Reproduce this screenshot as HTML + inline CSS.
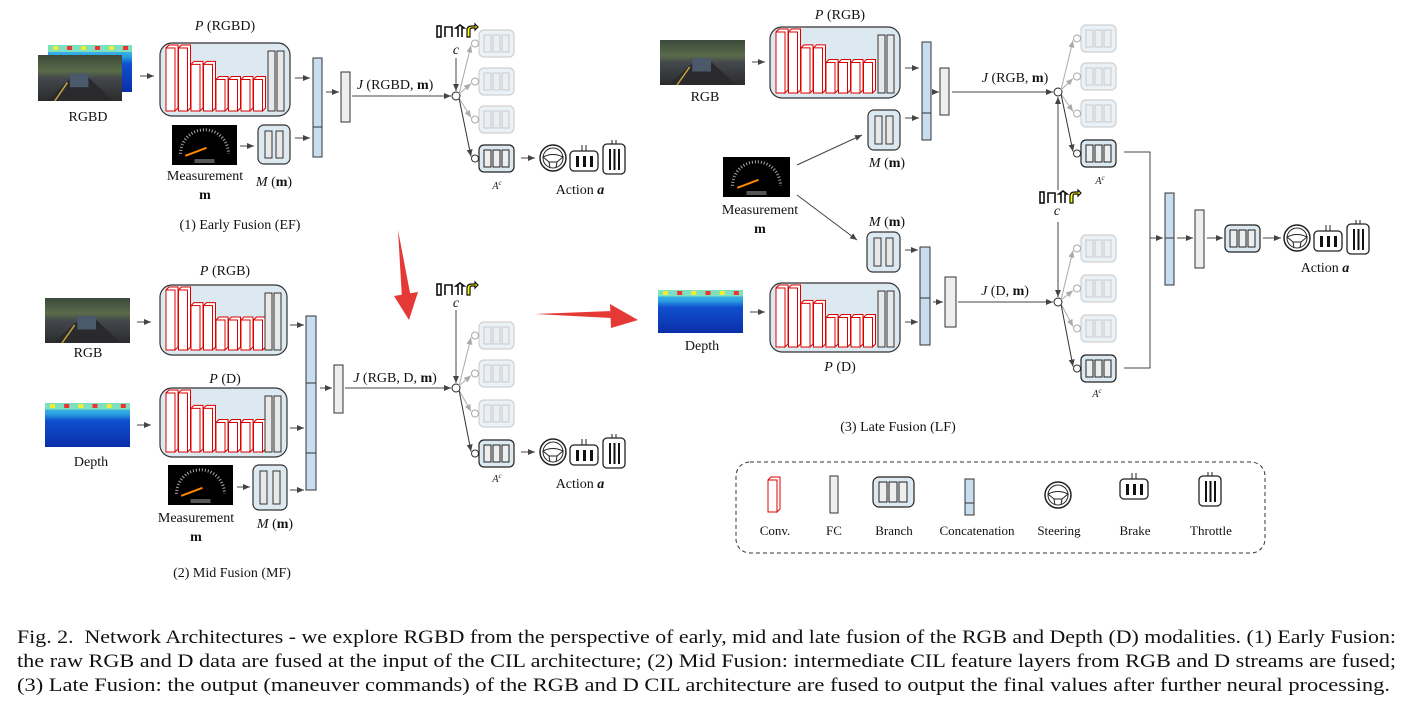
<!DOCTYPE html>
<html><head><meta charset="utf-8">
<style>
html,body{margin:0;padding:0;background:#fff;width:1417px;height:724px;overflow:hidden}
svg{position:absolute;left:0;top:0}
text{font-family:"Liberation Serif",serif;fill:#111}
</style></head><body>
<svg id="s" width="1417" height="724" viewBox="0 0 1417 724">
<defs>
<marker id="ar" markerWidth="8" markerHeight="8" refX="7" refY="3" orient="auto" markerUnits="userSpaceOnUse"><path d="M0,0 L7,3 L0,6z" fill="#444"/></marker>
<marker id="arg" markerWidth="8" markerHeight="8" refX="7" refY="3" orient="auto" markerUnits="userSpaceOnUse"><path d="M0,0 L7,3 L0,6z" fill="#aaa"/></marker>
<linearGradient id="road" x1="0" y1="0" x2="0" y2="1"><stop offset="0" stop-color="#3b4a3a"/><stop offset="0.35" stop-color="#5a6b4a"/><stop offset="0.5" stop-color="#44484c"/><stop offset="1" stop-color="#2b2c2e"/></linearGradient>
<linearGradient id="dep" x1="0" y1="0" x2="0" y2="1"><stop offset="0" stop-color="#4cc8e8"/><stop offset="0.25" stop-color="#2aa0e0"/><stop offset="0.4" stop-color="#1050d0"/><stop offset="1" stop-color="#0a2fa8"/></linearGradient>
</defs>
<g id="g"></g>
<g font-size="14">
<text x="225" y="30" text-anchor="middle"><tspan font-style="italic">P</tspan> (RGBD)</text>
<text x="88" y="121" text-anchor="middle">RGBD</text>
<text x="205" y="180" text-anchor="middle">Measurement</text>
<text x="205" y="199" text-anchor="middle" font-weight="bold">m</text>
<text x="274" y="186" text-anchor="middle"><tspan font-style="italic">M</tspan> (<tspan font-weight="bold">m</tspan>)</text>
<text x="395" y="89" text-anchor="middle"><tspan font-style="italic">J</tspan> (RGBD, <tspan font-weight="bold">m</tspan>)</text>
<text x="456" y="54" text-anchor="middle" font-style="italic">c</text>
<text x="580" y="194" text-anchor="middle">Action <tspan font-weight="bold" font-style="italic">a</tspan></text>
<text x="240" y="229" text-anchor="middle">(1) Early Fusion (EF)</text>

<text x="225" y="275" text-anchor="middle"><tspan font-style="italic">P</tspan> (RGB)</text>
<text x="88" y="357" text-anchor="middle">RGB</text>
<text x="225" y="383" text-anchor="middle"><tspan font-style="italic">P</tspan> (D)</text>
<text x="91" y="466" text-anchor="middle">Depth</text>
<text x="196" y="522" text-anchor="middle">Measurement</text>
<text x="196" y="541" text-anchor="middle" font-weight="bold">m</text>
<text x="275" y="528" text-anchor="middle"><tspan font-style="italic">M</tspan> (<tspan font-weight="bold">m</tspan>)</text>
<text x="395" y="382" text-anchor="middle"><tspan font-style="italic">J</tspan> (RGB, D, <tspan font-weight="bold">m</tspan>)</text>
<text x="456" y="307" text-anchor="middle" font-style="italic">c</text>
<text x="580" y="488" text-anchor="middle">Action <tspan font-weight="bold" font-style="italic">a</tspan></text>
<text x="232" y="577" text-anchor="middle">(2) Mid Fusion (MF)</text>

<text x="840" y="19" text-anchor="middle"><tspan font-style="italic">P</tspan> (RGB)</text>
<text x="705" y="101" text-anchor="middle">RGB</text>
<text x="760" y="214" text-anchor="middle">Measurement</text>
<text x="760" y="233" text-anchor="middle" font-weight="bold">m</text>
<text x="887" y="167" text-anchor="middle"><tspan font-style="italic">M</tspan> (<tspan font-weight="bold">m</tspan>)</text>
<text x="887" y="226" text-anchor="middle"><tspan font-style="italic">M</tspan> (<tspan font-weight="bold">m</tspan>)</text>
<text x="1015" y="82" text-anchor="middle"><tspan font-style="italic">J</tspan> (RGB, <tspan font-weight="bold">m</tspan>)</text>
<text x="1005" y="295" text-anchor="middle"><tspan font-style="italic">J</tspan> (D, <tspan font-weight="bold">m</tspan>)</text>
<text x="702" y="350" text-anchor="middle">Depth</text>
<text x="840" y="371" text-anchor="middle"><tspan font-style="italic">P</tspan> (D)</text>
<text x="1057" y="215" text-anchor="middle" font-style="italic">c</text>
<text x="1325" y="272" text-anchor="middle">Action <tspan font-weight="bold" font-style="italic">a</tspan></text>
<text x="898" y="431" text-anchor="middle">(3) Late Fusion (LF)</text>
</g>
<g font-size="10" font-style="italic">
<text x="497" y="189" text-anchor="middle">A<tspan font-size="7" dy="-4">c</tspan></text>
<text x="497" y="482" text-anchor="middle">A<tspan font-size="7" dy="-4">c</tspan></text>
<text x="1100" y="184" text-anchor="middle">A<tspan font-size="7" dy="-4">c</tspan></text>
<text x="1097" y="397" text-anchor="middle">A<tspan font-size="7" dy="-4">c</tspan></text>
</g>
<g font-size="13" text-anchor="middle">
<text x="775" y="535">Conv.</text>
<text x="834" y="535">FC</text>
<text x="894" y="535">Branch</text>
<text x="977" y="535">Concatenation</text>
<text x="1059" y="535">Steering</text>
<text x="1135" y="535">Brake</text>
<text x="1211" y="535">Throttle</text>
</g>
<g font-size="19">
<text x="17" y="643" textLength="1379" lengthAdjust="spacingAndGlyphs">Fig. 2.&#160; Network Architectures - we explore RGBD from the perspective of early, mid and late fusion of the RGB and Depth (D) modalities. (1) Early Fusion:</text>
<text x="17" y="667" textLength="1379" lengthAdjust="spacingAndGlyphs">the raw RGB and D data are fused at the input of the CIL architecture; (2) Mid Fusion: intermediate CIL feature layers from RGB and D streams are fused;</text>
<text x="17" y="691" textLength="1373" lengthAdjust="spacingAndGlyphs">(3) Late Fusion: the output (maneuver commands) of the RGB and D CIL architecture are fused to output the final values after further neural processing.</text>
</g>
</svg>
<script>
var h='';
function R(x,y,w,hh,f,s,rx,sw,op){h+='<rect x="'+x+'" y="'+y+'" width="'+w+'" height="'+hh+'" fill="'+f+'" stroke="'+(s||'none')+'" rx="'+(rx||0)+'" stroke-width="'+(sw||1)+'"'+(op?' opacity="'+op+'"':'')+'/>';}
function L(x1,y1,x2,y2,a,c){h+='<line x1="'+x1+'" y1="'+y1+'" x2="'+x2+'" y2="'+y2+'" stroke="'+(c||'#444')+'" stroke-width="1"'+(a?' marker-end="url(#'+a+')"':'')+'/>';}
function C(x,y,r,c){h+='<circle cx="'+x+'" cy="'+y+'" r="'+r+'" fill="#fff" stroke="'+(c||'#222')+'"/>';}
function conv(x,top,bot,w){w=w||9;h+='<path d="M'+x+','+top+' l3,-3 h'+w+' v'+(bot-top)+' l-3,3z" fill="#fff" stroke="#d00" stroke-width="1"/>';R(x,top,w,bot-top,'#fff','#d00');}
function P(x,y,w,hh){R(x,y,w,hh,'#dce9f1','#333',12,1.2);var bot=y+hh-5;var H=hh-10;
 for(var i=0;i<8;i++){var t=i<2?y+5:(i<4?y+5+H*0.26:y+5+H*0.5);conv(x+6+i*12.5,t,bot);}
 R(x+w-22,y+8,7,bot-y-8,'#e8e8e8','#333');R(x+w-13,y+8,7,bot-y-8,'#e8e8e8','#333');}
function M(x,y,w,hh){R(x,y,w,hh,'#dce9f1','#333',6,1.2);R(x+7,y+6,7,hh-12,'#e8e8e8','#333');R(x+w-14,y+6,7,hh-12,'#e8e8e8','#333');}
function cat(x,y,w,hh,divs){R(x,y,w,hh,'#c9ddf0','#333');divs.forEach(function(d){L(x,d,x+w,d,null,'#333');});}
function fc(x,y,w,hh){R(x,y,w,hh,'#eee','#333');}
function br(x,y,g){var op=g?0.55:null;R(x,y,35,27,'#dce9f1',g?'#aaa':'#222',5,1.2,op);for(var i=0;i<3;i++)R(x+5+i*9,y+5,7,17,'#eee',g?'#aaa':'#222',0,1,op);}
function fan(cx,cy,ys,act){C(cx,cy,4);ys.forEach(function(by,i){var g=i!=act;var c=g?'#aaa':'#333';var ex=cx+20,ey=by+13.5;L(cx+3,cy+2*(ey>cy?1:-1),ex-5,ey+(ey>cy?-2:2),g?'arg':'ar',c);C(ex-1,ey,3.5,c);br(ex+3,by,g);});}
function wheel(x,y){h+='<circle cx="'+x+'" cy="'+y+'" r="13" fill="#fff" stroke="#222" stroke-width="1.5"/><circle cx="'+x+'" cy="'+y+'" r="10" fill="none" stroke="#222"/><path d="M'+(x-10)+','+(y-1)+' Q'+x+','+(y-6)+' '+(x+10)+','+(y-1)+' L'+(x+4)+','+(y+4)+' L'+(x+3)+','+(y+10)+' M'+(x-10)+','+(y-1)+' L'+(x-4)+','+(y+4)+' L'+(x-3)+','+(y+10)+' M'+(x-4)+','+(y+4)+' H'+(x+4)+'" fill="none" stroke="#222"/>';}
function brake(x,y){R(x,y+6,28,20,'#fff','#222',4,1.3);L(x+12,y,x+12,y+6,null,'#222');L(x+16,y,x+16,y+6,null,'#222');for(var i=0;i<3;i++)R(x+6+i*7,y+11,3,11,'#111');}
function thr(x,y){R(x,y+4,22,30,'#fff','#222',4,1.3);L(x+9,y,x+9,y+4,null,'#222');L(x+13,y,x+13,y+4,null,'#222');for(var i=0;i<3;i++)R(x+6+i*4.5,y+9,2,21,'#111');}
function acts(x,y){wheel(x,y);brake(x+17,y-13);thr(x+50,y-18);}
function road(x,y,w,hh){R(x,y,w,hh,'url(#road)');h+='<path d="M'+(x+w*0.42)+','+(y+hh*0.45)+' L'+(x+w*0.1)+','+(y+hh)+' L'+(x+w*0.9)+','+(y+hh)+' L'+(x+w*0.58)+','+(y+hh*0.45)+'z" fill="#2a2a2c"/>';R(x+w*0.38,y+hh*0.4,w*0.22,hh*0.3,'#4a5a6a');h+='<path d="M'+(x+w*0.2)+','+(y+hh)+' L'+(x+w*0.35)+','+(y+hh*0.6)+'" stroke="#c9a83a" stroke-width="1.5"/>';}
function depth(x,y,w,hh){R(x,y,w,hh,'url(#dep)');R(x,y,w,hh*0.15,'#7fe0c0');for(var i=0;i<6;i++)R(x+5+i*w/6,y+1,5,4,i%2?'#e33':'#ee3');}
function speedo(x,y,w,hh){R(x,y,w,hh,'#000');var cx=x+w/2,cy=y+hh*0.72,r=hh*0.6;h+='<path d="M'+(cx-r)+','+cy+' A'+r+','+r+' 0 0 1 '+(cx+r)+','+cy+'" fill="none" stroke="#aaa" stroke-width="3" stroke-dasharray="1 2"/><line x1="'+(cx-r*0.8)+'" y1="'+(cy+2)+'" x2="'+(cx+2)+'" y2="'+(cy-6)+'" stroke="#f80" stroke-width="2"/>';R(cx-10,y+hh-6,20,4,'#555');}
function cmds(x,y){h+='<g stroke="#111" stroke-width="1.6" fill="none"><rect x="'+x+'" y="'+(y-5)+'" width="4" height="11"/><path d="M'+(x+8)+','+(y+6)+' v-10 h7 v10"/><path d="M'+(x+21)+','+(y+6)+' v-9 h-2 l4,-3 4,3 h-2 v9"/></g><path d="M'+(x+30)+','+(y+6)+' v-7 q0,-4 5,-4 h3 v-2 l3,3 -3,3 v-2 h-3 q-2,0 -2,2 v7z" fill="#ff0" stroke="#111" stroke-width="1.2"/>';}
depth(48,45,84,47);road(38,55,84,46);
L(140,76,154,76,'ar');P(160,43,130,73);L(295,78,310,78,'ar');
speedo(172,125,65,40);L(240,146,254,146,'ar');M(258,125,32,39);L(295,138,310,138,'ar');
cat(313,58,9,99,[127]);L(326,92,339,92,'ar');fc(341,72,9,50);
L(352,96,451,96,'ar');cmds(437,31);L(456,58,456,91,'ar');
fan(456,96,[30,68,106,145],3);L(521,158,535,158,'ar');acts(553,158);
road(45,298,85,45);L(137,322,151,322,'ar');P(160,285,127,70);
depth(45,403,85,44);L(137,425,151,425,'ar');P(160,388,127,69);
L(290,325,304,325,'ar');L(290,428,304,428,'ar');
speedo(168,465,65,40);L(237,487,250,487,'ar');M(253,465,34,45);L(290,490,304,490,'ar');
cat(306,316,10,174,[383,453]);L(320,388,332,388,'ar');fc(334,365,9,48);
L(345,388,451,388,'ar');cmds(437,289);L(456,310,456,383,'ar');
fan(456,388,[322,360,400,440],3);L(521,452,535,452,'ar');acts(553,452);
h+='<path d="M398,230 L411,298 L402,299z M394,296 L418,292 L409,320z" fill="#e53935"/>';
h+='<path d="M535,314 L612,311 L611,318z M610,304 L638,320 L611,328z" fill="#e53935"/>';
road(660,40,85,45);L(752,62,765,62,'ar');P(770,27,130,71);L(905,68,919,68,'ar');
M(868,110,32,40);L(905,118,919,118,'ar');cat(922,42,9,98,[113]);L(933,92,939,92,'ar');fc(940,68,9,47);
L(952,92,1053,92,'ar');fan(1058,92,[25,63,100,140],3);
speedo(723,157,67,40);L(797,165,862,135,'ar');L(797,195,857,240,'ar');
cmds(1040,197);L(1058,190,1058,97,'ar');L(1058,222,1058,297,'ar');
M(867,232,33,40);depth(658,290,85,43);L(750,312,765,312,'ar');P(770,283,130,69);
L(905,250,918,250,'ar');L(905,322,918,322,'ar');cat(920,247,10,98,[298]);L(933,302,943,302,'ar');fc(945,277,11,50);
L(958,302,1053,302,'ar');fan(1058,302,[235,275,315,355],3);
h+='<path d="M1124,152 H1150 V368 H1124" fill="none" stroke="#444"/>';L(1150,238,1163,238,'ar');
cat(1165,193,9,92,[238]);L(1177,238,1193,238,'ar');fc(1195,210,9,58);L(1207,238,1223,238,'ar');
br(1225,225,false);L(1263,238,1281,238,'ar');acts(1297,238);
h+='<rect x="736" y="462" width="529" height="91" rx="14" fill="none" stroke="#333" stroke-dasharray="4 3"/>';
conv(768,480,512,9);fc(830,476,8,37);R(873,477,41,30,'#dce9f1','#222',6,1.2);for(var i=0;i<3;i++)R(879+i*10,482,8,20,'#eee','#222');
cat(965,479,9,36,[503]);wheel(1058,495);brake(1120,473);thr(1199,472);
document.getElementById('g').innerHTML=h;
</script>
</body></html>
